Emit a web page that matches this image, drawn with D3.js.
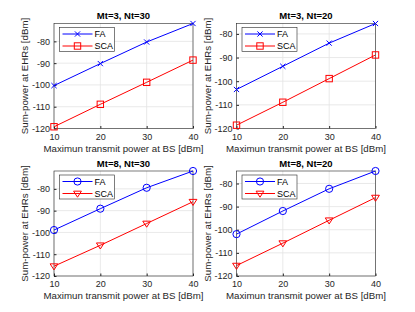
<!DOCTYPE html>
<html>
<head>
<meta charset="utf-8">
<script src="https://cdn.jsdelivr.net/npm/d3@7"></script>
<style>
  body { margin: 0; background: #fff; }
  svg { display: block; font-family: "Liberation Sans", Arial, sans-serif; }
</style>
</head>
<body>
<svg id="chart" width="415" height="312"></svg>
<script>
// ----- Data -----
let xValues = [10, 20, 30, 40]
let xTicks = [10, 20, 30, 40]
let yTicks = [-120, -110, -100, -90, -80]
let titles = ['Mt=3, Nt=30', 'Mt=3, Nt=20', 'Mt=8, Nt=30', 'Mt=8, Nt=20']
let seriesNames = ['FA', 'SCA']

let fa_3_30 = [-100.3, -90.2, -80.3, -71.8]
let sca_3_30 = [-119.2, -108.9, -98.8, -88.6]
let fa_3_20 = [-103.5, -93.7, -83.9, -75.6]
let sca_3_20 = [-118.6, -108.9, -98.9, -88.9]
let fa_8_30 = [-98.9, -89.1, -79.5, -71.8]
let sca_8_30 = [-115.5, -105.9, -95.9, -85.9]
let fa_8_20 = [-101.9, -91.9, -82.3, -74.6]
let sca_8_20 = [-115.5, -105.8, -95.9, -86.1]

let faData = [fa_3_30, fa_3_20, fa_8_30, fa_8_20]
let scaData = [sca_3_30, sca_3_20, sca_8_30, sca_8_20]

// ----- Layout -----
let svg = d3.select('#chart')
let panelW = 139
let panelH = 105
let origins = [[54, 23.5], [236.5, 23.5], [54, 171], [236.5, 171]]
let axisColor = '#262626'
let gridColor = '#e3e3e3'
let blue = '#0000ff'
let red = '#ff0000'

function drawMarker(g, type, x, y, color) {
    if (type == 'x') {
        let s = 2.6
        g.append('path')
         .attr('d', 'M' + (x - s) + ',' + (y - s) + 'L' + (x + s) + ',' + (y + s) +
                    'M' + (x - s) + ',' + (y + s) + 'L' + (x + s) + ',' + (y - s))
         .attr('stroke', color).attr('stroke-width', 1).attr('fill', 'none')
    } else if (type == 'square') {
        let s = 3.2
        g.append('rect')
         .attr('x', x - s).attr('y', y - s).attr('width', 2 * s).attr('height', 2 * s)
         .attr('stroke', color).attr('stroke-width', 1).attr('fill', 'none')
    } else if (type == 'circle') {
        g.append('circle')
         .attr('cx', x).attr('cy', y).attr('r', 3.6)
         .attr('stroke', color).attr('stroke-width', 1).attr('fill', 'none')
    } else if (type == 'tri') {
        let s = 3.9
        g.append('path')
         .attr('d', 'M' + (x - s) + ',' + (y - s * 0.6) + 'L' + (x + s) + ',' + (y - s * 0.6) +
                    'L' + x + ',' + (y + s * 0.95) + 'Z')
         .attr('stroke', color).attr('stroke-width', 1).attr('fill', 'none')
    }
}

titles.forEach(function (title, i) {
    let ox = origins[i][0]
    let oy = origins[i][1]
    let fa = faData[i]
    let sca = scaData[i]
    let markers = i < 2 ? ['x', 'square'] : ['circle', 'tri']

    let x = d3.scaleLinear().domain([10, 40]).range([0, panelW])
    let y = d3.scaleLinear().domain([-120, d3.max(fa)]).range([panelH, 0])

    let g = svg.append('g').attr('transform', 'translate(' + ox + ',' + oy + ')')

    // grid
    g.selectAll('.gx').data(xTicks).enter().append('line')
     .attr('x1', d => x(d)).attr('x2', d => x(d)).attr('y1', 0).attr('y2', panelH)
     .attr('stroke', gridColor).attr('stroke-width', 0.8)
    g.selectAll('.gy').data(yTicks).enter().append('line')
     .attr('x1', 0).attr('x2', panelW).attr('y1', d => y(d)).attr('y2', d => y(d))
     .attr('stroke', gridColor).attr('stroke-width', 0.8)

    // axes
    let xAxis = d3.axisBottom(x).tickValues(xTicks).tickSize(-2.5).tickPadding(5)
    let yAxis = d3.axisLeft(y).tickValues(yTicks).tickSize(-2.5).tickPadding(4)
                  .tickFormat(d => d3.format('d')(d).replace('−', '-'))
    let gx = g.append('g').attr('transform', 'translate(0,' + panelH + ')').call(xAxis)
    let gy = g.append('g').call(yAxis)
    ;[gx, gy].forEach(function (a) {
        a.select('.domain').remove()
        a.selectAll('line').attr('stroke', axisColor)
        a.selectAll('text').attr('fill', axisColor).attr('font-size', '9px')
         .attr('font-family', '"Liberation Sans", Arial, sans-serif')
    })
    gx.selectAll('text').attr('dy', '0.71em')

    // box
    g.append('rect').attr('width', panelW).attr('height', panelH)
     .attr('fill', 'none').attr('stroke', axisColor).attr('stroke-width', 0.6)

    // lines
    let line = d3.line().x((d, j) => x(xValues[j])).y(d => y(d))
    g.append('path').datum(fa).attr('d', line).attr('fill', 'none')
     .attr('stroke', blue).attr('stroke-width', 1)
    g.append('path').datum(sca).attr('d', line).attr('fill', 'none')
     .attr('stroke', red).attr('stroke-width', 1)
    fa.forEach((d, j) => drawMarker(g, markers[0], x(xValues[j]), y(d), blue))
    sca.forEach((d, j) => drawMarker(g, markers[1], x(xValues[j]), y(d), red))

    // title
    g.append('text').attr('x', panelW / 2).attr('y', -4.5)
     .attr('text-anchor', 'middle').attr('font-size', '9.5px').attr('font-weight', 'bold')
     .attr('fill', '#000').text(title)

    // axis labels
    g.append('text').attr('x', panelW / 2).attr('y', panelH + 23)
     .attr('text-anchor', 'middle').attr('font-size', '9.7px').attr('fill', axisColor)
     .text('Maximun transmit power at BS [dBm]')
    g.append('text')
     .attr('transform', 'translate(' + (-26) + ',' + (panelH / 2) + ') rotate(-90)')
     .attr('text-anchor', 'middle').attr('font-size', '9.7px').attr('fill', axisColor)
     .text('Sum-power at EHRs [dBm]')

    // legend
    let lg = g.append('g').attr('transform', 'translate(5.5,4)')
    lg.append('rect').attr('width', 55).attr('height', 24)
     .attr('fill', '#fff').attr('stroke', axisColor).attr('stroke-width', 0.6)
    seriesNames.forEach(function (name, k) {
        let color = k == 0 ? blue : red
        let ly = 6.5 + k * 12
        lg.append('line').attr('x1', 3).attr('x2', 33).attr('y1', ly).attr('y2', ly)
          .attr('stroke', color).attr('stroke-width', 1)
        drawMarker(lg, markers[k], 18, ly, color)
        lg.append('text').attr('x', 35).attr('y', ly).attr('dy', '0.35em')
          .attr('font-size', '9px').attr('fill', '#000').text(name)
    })
})
</script>
</body>
</html>
